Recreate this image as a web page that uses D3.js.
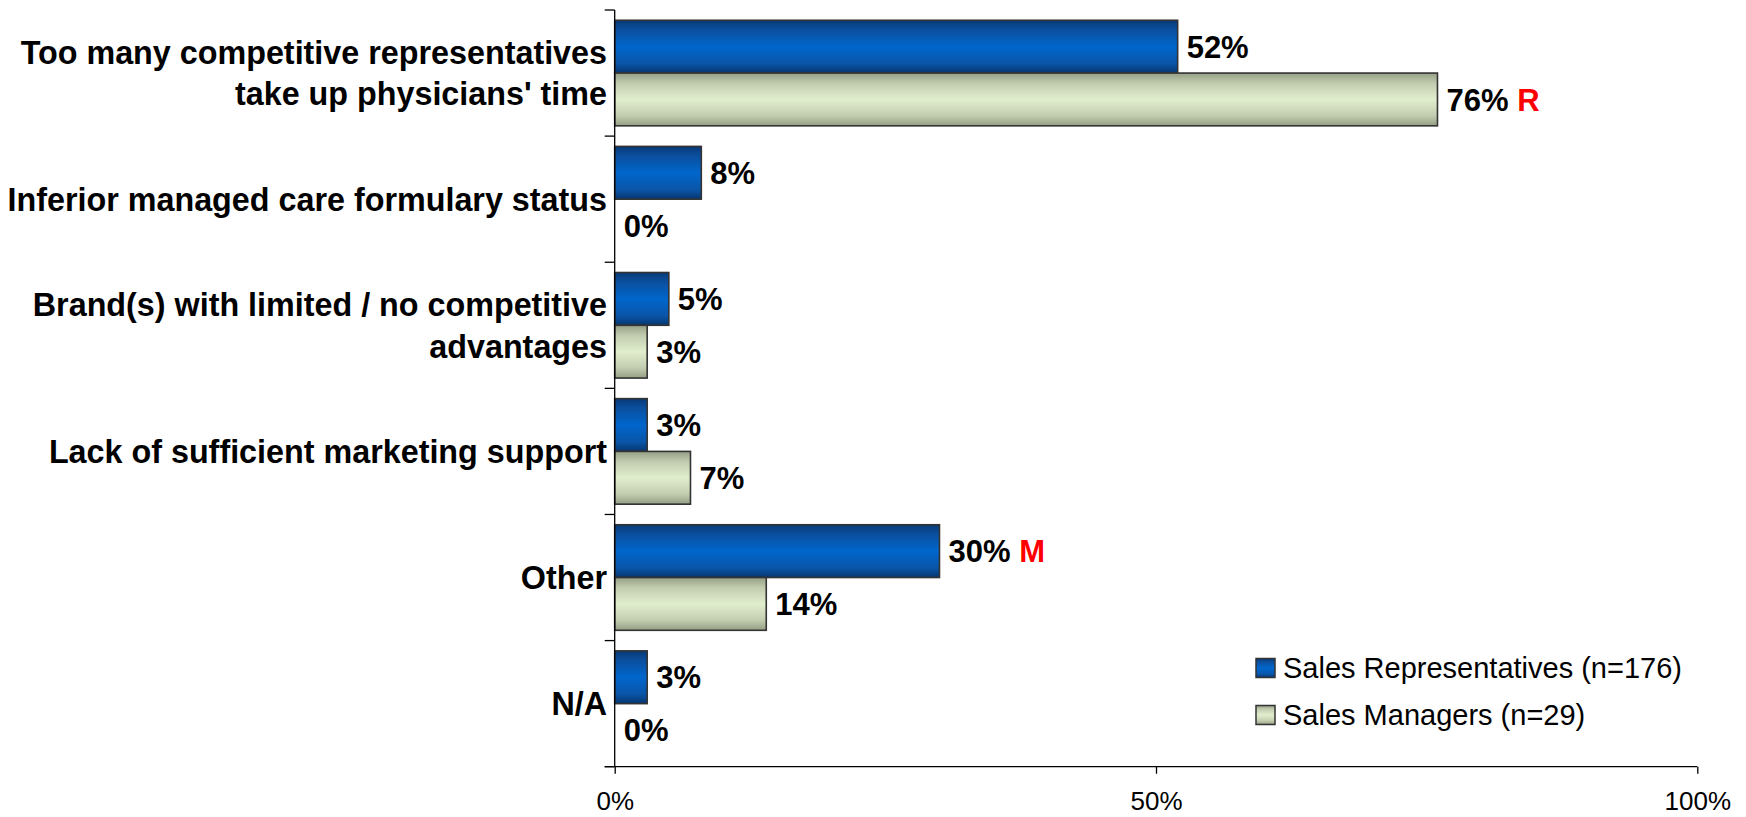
<!DOCTYPE html>
<html>
<head>
<meta charset="utf-8">
<script src="https://cdn.jsdelivr.net/npm/d3@7"></script>
<style>
  html, body { margin: 0; padding: 0; background: #fff; }
  svg { display: block; font-family: "Liberation Sans", Arial, sans-serif; }
</style>
</head>
<body>
<svg id="chart" width="1746" height="817"></svg>
<script>
// Categories (label lines) and the two survey series, in percent
const categories = [
  ["Too many competitive representatives", "take up physicians' time"],
  ["Inferior managed care formulary status"],
  ["Brand(s) with limited / no competitive", "advantages"],
  ["Lack of sufficient marketing support"],
  ["Other"],
  ["N/A"]
];
const salesReps = [52, 8, 5, 3, 30, 3];
const salesManagers = [76, 0, 3, 7, 14, 0];
const repsFlags = ["", "", "", "", "M", ""];
const managerFlags = ["R", "", "", "", "", ""];
const seriesNames = ["Sales Representatives (n=176)", "Sales Managers (n=29)"];
const xTicks = [0, 50, 100];

const svg = d3.select("#chart");
const plotLeft = 614.7, plotRight = 1697.3, plotTop = 10, plotBottom = 766.7;

// Bar gradients
const defs = svg.append("defs");
function vGrad(id, stops) {
  const g = defs.append("linearGradient").attr("id", id)
    .attr("x1", 0).attr("y1", 0).attr("x2", 0).attr("y2", 1);
  stops.forEach(s => g.append("stop").attr("offset", s[0]).attr("stop-color", s[1]));
}
vGrad("gBlue", [[0, "#083a78"], [0.18, "#0b4f9e"], [0.5, "#0066cc"], [0.82, "#0a55a8"], [1, "#063670"]]);
vGrad("gGreen", [[0, "#949f86"], [0.2, "#c2cdb0"], [0.5, "#e1eecd"], [0.8, "#c3ceb1"], [1, "#939e84"]]);
const fills = ["url(#gBlue)", "url(#gGreen)"];

const keys = categories.map((c, i) => i);
const x = d3.scaleLinear().domain([0, 100]).range([plotLeft, plotRight]);
const y = d3.scaleBand().domain(keys).range([plotTop, plotBottom])
  .paddingInner(0.163).paddingOuter(0.0815);
const ySub = d3.scaleBand().domain([0, 1]).range([0, y.bandwidth()]);

const rows = keys.map(i => ({
  i,
  vals: [
    { s: 0, v: salesReps[i], flag: repsFlags[i] },
    { s: 1, v: salesManagers[i], flag: managerFlags[i] }
  ]
}));

// Bars
const g = svg.append("g");
const rowG = g.selectAll("g.row").data(rows).join("g")
  .attr("class", "row")
  .attr("transform", d => `translate(0,${y(d.i)})`);

rowG.selectAll("rect").data(d => d.vals.filter(v => v.v > 0)).join("rect")
  .attr("x", x(0))
  .attr("y", d => ySub(d.s))
  .attr("width", d => x(d.v) - x(0))
  .attr("height", ySub.bandwidth())
  .attr("fill", d => fills[d.s])
  .attr("stroke", "#333")
  .attr("stroke-width", 1.6);

// Value labels
const lbl = rowG.selectAll("text.val").data(d => d.vals).join("text")
  .attr("class", "val")
  .attr("x", d => x(d.v) + 9)
  .attr("y", d => ySub(d.s) + ySub.bandwidth() / 2)
  .attr("dy", "0.36em")
  .attr("font-size", 31)
  .attr("font-weight", "bold")
  .attr("fill", "#000");
lbl.append("tspan").text(d => d.v + "%");
lbl.filter(d => d.flag).append("tspan").attr("fill", "#ff0000").text(d => " " + d.flag);

// Category axis: vertical line with ticks on band boundaries
const yAxis = svg.append("g").attr("stroke", "#000").attr("stroke-width", 1.3);
yAxis.append("line").attr("x1", plotLeft).attr("x2", plotLeft).attr("y1", plotTop).attr("y2", plotBottom);
const bounds = keys.map(i => y(i) - y.step() * y.paddingInner() / 2).concat([plotBottom]);
bounds[0] = plotTop;
yAxis.selectAll("line.tk").data(bounds).join("line")
  .attr("class", "tk")
  .attr("x1", plotLeft - 10).attr("x2", plotLeft)
  .attr("y1", d => d).attr("y2", d => d);

// Category labels
const catG = svg.append("g");
catG.selectAll("text").data(rows).join("text")
  .attr("x", 607)
  .attr("text-anchor", "end")
  .attr("font-size", 32.3)
  .attr("font-weight", "bold")
  .attr("fill", "#000")
  .each(function (d) {
    const lines = categories[d.i];
    const lh = 41.5;
    const cy = y(d.i) + y.bandwidth() / 2;
    const y0 = cy - (lines.length - 1) * lh / 2;
    d3.select(this).selectAll("tspan").data(lines).join("tspan")
      .attr("x", 607)
      .attr("y", (t, k) => y0 + k * lh)
      .attr("dy", "0.36em")
      .text(t => t);
  });

// Value axis
const xAxis = svg.append("g").attr("transform", `translate(0,${plotBottom})`)
  .call(d3.axisBottom(x).tickValues(xTicks).tickSizeInner(7).tickSizeOuter(0)
    .tickPadding(18).tickFormat(d => d + "%"));
xAxis.select(".domain").remove();
xAxis.append("line").attr("x1", plotLeft - 10).attr("x2", plotRight).attr("stroke", "#000").attr("stroke-width", 1.3);
xAxis.selectAll(".tick line").attr("stroke", "#000").attr("stroke-width", 1.3);
xAxis.selectAll(".tick text").attr("font-size", 26).attr("fill", "#000")
  .attr("font-family", "'Liberation Sans', Arial, sans-serif");

// Legend
const leg = svg.append("g").attr("transform", "translate(1256,0)");
const legY = [668, 715];
seriesNames.forEach((name, k) => {
  leg.append("rect").attr("x", 0).attr("y", legY[k] - 9.5).attr("width", 19).attr("height", 19)
    .attr("fill", fills[k]).attr("stroke", "#333").attr("stroke-width", 1.5);
  leg.append("text").attr("x", 27).attr("y", legY[k]).attr("dy", "0.36em")
    .attr("font-size", 29).attr("fill", "#000").text(name);
});
</script>
</body>
</html>
